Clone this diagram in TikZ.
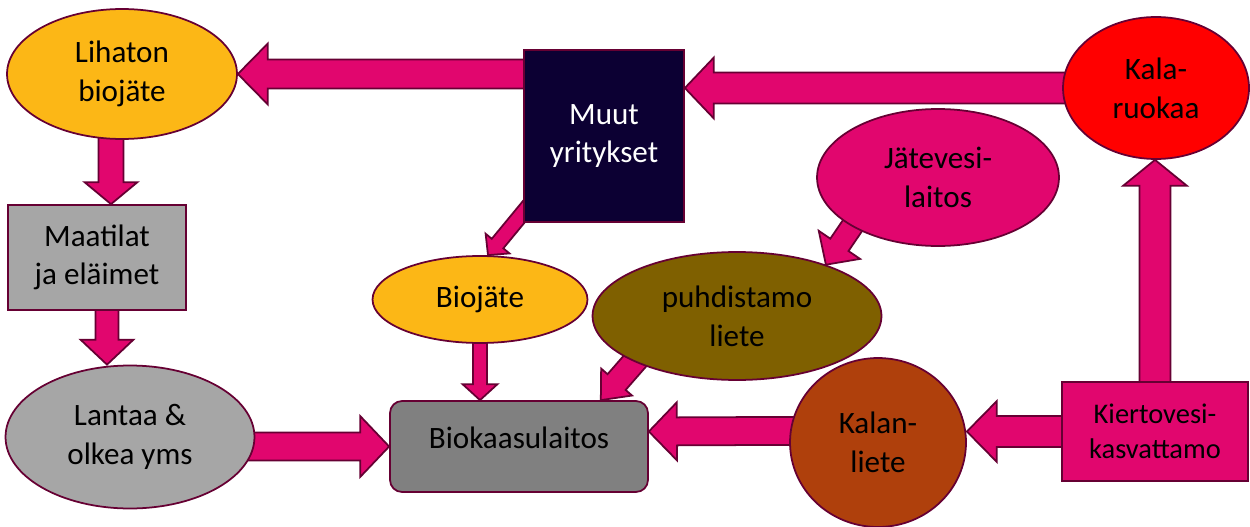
\documentclass[tikz,border=0pt]{standalone}
\usepackage{fontspec}
\setmainfont{Carlito}
\usepackage{xcolor}
\usepackage{tikz}
\usetikzlibrary{shapes.geometric,calc,backgrounds}
\definecolor{edgeline}{RGB}{102,0,51}
\definecolor{flowpink}{RGB}{225,6,110}
\definecolor{golden}{RGB}{252,183,22}
\definecolor{lightgrey}{RGB}{166,166,166}
\definecolor{midgrey}{RGB}{128,128,128}
\definecolor{nightblue}{RGB}{12,0,51}
\definecolor{sludge}{RGB}{127,96,0}
\definecolor{rust}{RGB}{175,64,12}
\tikzset{
  oval/.style={
    ellipse,
    draw=edgeline,
    line width=1pt,
    align=center,
    inner sep=0pt,
    font=\fontsize{17.7}{22}\selectfont
  },
  box/.style={
    rectangle,
    draw=edgeline,
    line width=1pt,
    align=center,
    inner sep=0pt,
    font=\fontsize{17.7}{22}\selectfont
  },
  fatflow/.style={draw=edgeline, fill=flowpink, line width=1pt, line join=miter}
}
% #1 from, #2 tip, #3 half shaft, #4 half head, #5 head length
\newcommand{\fatarrow}[5]{%
  \path (#1) coordinate (fa-a) (#2) coordinate (fa-t);
  \coordinate (fa-s) at ($(fa-a)!-3mm!(fa-t)$);
  \coordinate (fa-h) at ($(fa-t)!#5!(fa-s)$);
  \draw[fatflow] ($(fa-s)!#3!90:(fa-t)$) -- ($(fa-h)!#3!90:(fa-t)$)
    -- ($(fa-h)!#4!90:(fa-t)$) -- (fa-t) -- ($(fa-h)!#4!-90:(fa-t)$)
    -- ($(fa-h)!#3!-90:(fa-t)$) -- ($(fa-s)!#3!-90:(fa-t)$) -- cycle;
}

\begin{document}
\begin{tikzpicture}[x=0.02cm, y=-0.02cm]
  \useasboundingbox (0,0) rectangle (1250,527);
  \node[oval, fill=golden, minimum width=4.6cm, minimum height=2.6cm] (lihaton) at (122,74) {Lihaton\\biojäte};
  \node[box, fill=lightgrey, minimum width=3.56cm, minimum height=2.1cm] (maatilat) at (97,257.5) {Maatilat\\ja eläimet};
  \node[oval, fill=lightgrey, minimum width=4.98cm, minimum height=2.86cm] (lantaa) at (130,437) {Lantaa \&\\olkea yms};
  \node[box, fill=nightblue, text=white, minimum width=3.2cm, minimum height=3.44cm] (muut) at (604,136) {Muut\\yritykset};
  \node[oval, fill=golden, minimum width=4.3cm, minimum height=1.74cm] (biojate) at (480,299.5) {Biojäte};
  \node[oval, fill=sludge, minimum width=5.78cm, minimum height=2.56cm] (puhdistamo) at (737,316) {puhdistamo\\liete};
  \node[oval, fill=flowpink, minimum width=4.84cm, minimum height=2.74cm] (jatevesi) at (938,177.5) {Jätevesi-\\laitos};
  \node[oval, fill=red, minimum width=3.72cm, minimum height=2.84cm] (kalaruokaa) at (1156,88) {Kala-\\ruokaa};
  \node[box, fill=midgrey, rounded corners=2.4mm, text depth=10pt, minimum width=5.16cm, minimum height=1.82cm] (biokaasu) at (519,446.5) {Biokaasulaitos};
  \node[oval, fill=rust, minimum width=3.52cm, minimum height=3.38cm] (kalanliete) at (878,442.5) {Kalan-\\liete};
  \node[box, fill=flowpink, font=\fontsize{16.2}{20}\selectfont, minimum width=3.72cm, minimum height=1.98cm] (kierto) at (1155,431.5) {Kiertovesi-\\kasvattamo};

  \begin{scope}[on background layer]
    \fatarrow{muut.center |- lihaton.east}{lihaton.east}{2.9mm}{6.1mm}{6mm}
    \fatarrow{kalaruokaa.center}{kalaruokaa.center -| muut.east}{3.1mm}{6.1mm}{5.8mm}
    \fatarrow{$(lihaton.center)+(-11,0)$}{$(maatilat.north)+(14,0)$}{2.5mm}{5.3mm}{4.4mm}
    \fatarrow{$(maatilat.center)+(10,0)$}{$(lantaa.north)+(-23,0)$}{2.3mm}{5.3mm}{5mm}
    \fatarrow{lantaa.center |- biokaasu.west}{biokaasu.west}{2.8mm}{6.1mm}{5.8mm}
    \fatarrow{biojate.center}{biojate.center |- biokaasu.north}{1.4mm}{3.5mm}{3.2mm}
    \fatarrow{$(muut.south west)+(8,-20)$}{$(biojate.north)+(8,0)$}{1.5mm}{3.1mm}{3mm}
    \fatarrow{jatevesi.south west}{puhdistamo.30}{2.2mm}{5mm}{4.8mm}
    \fatarrow{puhdistamo.south west}{$(biokaasu.north)!0.63!(biokaasu.north east)$}{2.4mm}{4.1mm}{4.8mm}
    \fatarrow{$(kalanliete.center)+(0,-12)$}{$(biokaasu.east)+(0,-15)$}{2.8mm}{5.8mm}{5.6mm}
    \fatarrow{kierto.center}{kierto.center -| kalanliete.east}{3.1mm}{6.1mm}{6mm}
    \fatarrow{kierto.center}{kierto.center |- kalaruokaa.south}{3.1mm}{6.4mm}{5.2mm}
  \end{scope}
\end{tikzpicture}
\end{document}
